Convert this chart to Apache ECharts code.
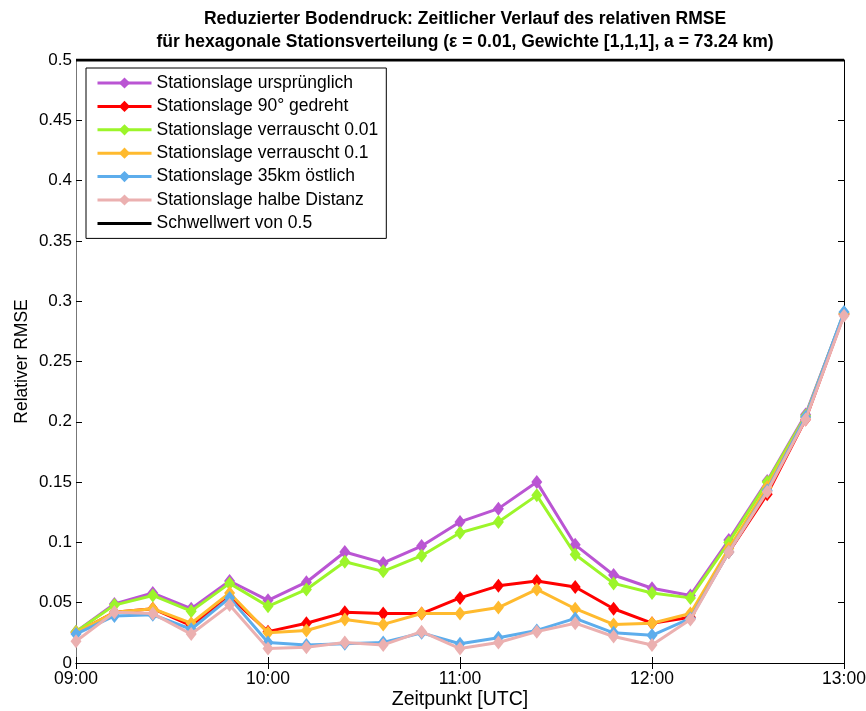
<!DOCTYPE html>
<html>
<head>
<meta charset="utf-8">
<script src="https://cdn.jsdelivr.net/npm/echarts@6/dist/echarts.min.js"></script>
<style>html,body{margin:0;padding:0;background:#fff}#c{width:866px;height:711px}</style>
</head>
<body>
<div id="c"></div>
<script>
const times = ['09:00','09:12','09:24','09:36','09:48','10:00','10:12','10:24','10:36','10:48','11:00','11:12','11:24','11:36','11:48','12:00','12:12','12:24','12:36','12:48','13:00'];
const xTickLabels = ['09:00','10:00','11:00','12:00','13:00'];
const yTickLabels = ['0','0.05','0.1','0.15','0.2','0.25','0.3','0.35','0.4','0.45','0.5'];

const ursprunglich = [0.026,0.049,0.058,0.045,0.068,0.052,0.067,0.092,0.083,0.097,0.117,0.128,0.150,0.098,0.073,0.062,0.056,0.102,0.151,0.206,0.290];
const gedreht90    = [0.025,0.042,0.045,0.031,0.055,0.026,0.033,0.042,0.041,0.041,0.054,0.064,0.068,0.063,0.045,0.033,0.038,0.092,0.140,0.202,0.289];
const verrauscht001= [0.026,0.048,0.056,0.043,0.066,0.047,0.061,0.084,0.076,0.089,0.108,0.117,0.139,0.090,0.066,0.058,0.054,0.100,0.150,0.205,0.290];
const verrauscht01 = [0.025,0.042,0.045,0.033,0.058,0.025,0.027,0.036,0.032,0.041,0.041,0.046,0.061,0.045,0.032,0.033,0.041,0.095,0.146,0.204,0.290];
const oestlich35   = [0.024,0.039,0.040,0.028,0.054,0.017,0.015,0.016,0.017,0.025,0.016,0.021,0.027,0.037,0.025,0.023,0.037,0.092,0.143,0.204,0.291];
const halbeDistanz = [0.018,0.042,0.041,0.024,0.048,0.012,0.013,0.017,0.015,0.026,0.012,0.017,0.026,0.033,0.022,0.015,0.036,0.092,0.142,0.202,0.288];
const schwellwert  = times.map(() => 0.5);

const seriesNames = ['Stationslage ursprünglich','Stationslage 90° gedreht','Stationslage verrauscht 0.01','Stationslage verrauscht 0.1','Stationslage 35km östlich','Stationslage halbe Distanz','Schwellwert von 0.5'];
const seriesData = [ursprunglich, gedreht90, verrauscht001, verrauscht01, oestlich35, halbeDistanz, schwellwert];
const colors = ['#BA55D3','#FF0000','#9CF52A','#FFBA2E','#5DADEC','#EBB0B0','#000000'];

const FONT = 'Liberation Sans, Arial, sans-serif';
const chart = echarts.init(document.getElementById('c'), null, {renderer:'canvas'});

const series = seriesData.map((d, i) => ({
  name: seriesNames[i],
  type: 'line',
  data: d,
  xAxisIndex: 0, yAxisIndex: 0,
  symbol: i === 6 ? 'none' : 'diamond',
  symbolSize: [11, 14],
  showSymbol: i !== 6,
  lineStyle: {width: 3, color: colors[i]},
  itemStyle: {color: colors[i]},
  animation: false,
  clip: i === 6,
  z: 2 + i
}));

const labelSet = new Set(xTickLabels);
chart.setOption({
  animation: false,
  title: {
    text: 'Reduzierter Bodendruck: Zeitlicher Verlauf des relativen RMSE\nfür hexagonale Stationsverteilung (ε = 0.01, Gewichte [1,1,1], a = 73.24 km)',
    left: 460, textAlign: 'center', top: 3,
    textStyle: {fontFamily: FONT, fontSize: 17.5, fontWeight: 'bold', color: '#000', lineHeight: 23}
  },
  legend: {
    orient: 'vertical', left: 86, top: 68,
    itemWidth: 54, itemHeight: 14, itemGap: 5.4,
    padding: [6, 8, 6, 10],
    backgroundColor: '#fff', borderColor: '#000', borderWidth: 1,
    lineStyle: {width: 3},
    textStyle: {fontFamily: FONT, fontSize: 17.5, color: '#000'},
    data: seriesNames.map((n, i) => i === 6 ? {name: n, itemStyle: {opacity: 0}} : n)
  },
  grid: {left: 76, right: 22, top: 60, bottom: 48, containLabel: false, outerBoundsMode: 'none'},
  xAxis: [{
    type: 'category', data: times, boundaryGap: false,
    name: 'Zeitpunkt [UTC]', nameLocation: 'middle', nameGap: 27, nameMoveOverlap: false,
    nameTextStyle: {fontFamily: FONT, fontSize: 19.5, color: '#000'},
    axisLine: {lineStyle: {color: '#777', width: 1}},
    axisTick: {inside: true, length: 6, interval: (i, v) => labelSet.has(v), lineStyle: {color: '#000'}},
    axisLabel: {interval: (i, v) => labelSet.has(v), fontFamily: FONT, fontSize: 17.5, color: '#000', margin: 7},
    splitLine: {show: false}
  }, {
    type: 'category', data: times, boundaryGap: false, position: 'top',
    axisLine: {lineStyle: {color: '#000', width: 1}},
    axisTick: {inside: true, length: 6, interval: (i, v) => labelSet.has(v), lineStyle: {color: '#000'}},
    axisLabel: {show: false}, splitLine: {show: false}
  }],
  yAxis: [{
    type: 'value', min: 0, max: 0.5, interval: 0.05,
    name: 'Relativer RMSE', nameLocation: 'middle', nameGap: 45, nameMoveOverlap: false,
    nameTextStyle: {fontFamily: FONT, fontSize: 17.5, color: '#000'},
    axisLine: {show: true, lineStyle: {color: '#777', width: 1}},
    axisTick: {show: true, inside: true, length: 6, lineStyle: {color: '#000'}},
    axisLabel: {fontFamily: FONT, fontSize: 17, color: '#000', margin: 4,
      formatter: v => yTickLabels[Math.round(v / 0.05)]},
    splitLine: {show: false}
  }, {
    type: 'value', min: 0, max: 0.5, interval: 0.05, position: 'right',
    axisLine: {show: true, lineStyle: {color: '#000', width: 1}},
    axisTick: {show: true, inside: true, length: 6, lineStyle: {color: '#000'}},
    axisLabel: {show: false}, splitLine: {show: false}
  }],
  series: series
});
</script>
</body>
</html>
